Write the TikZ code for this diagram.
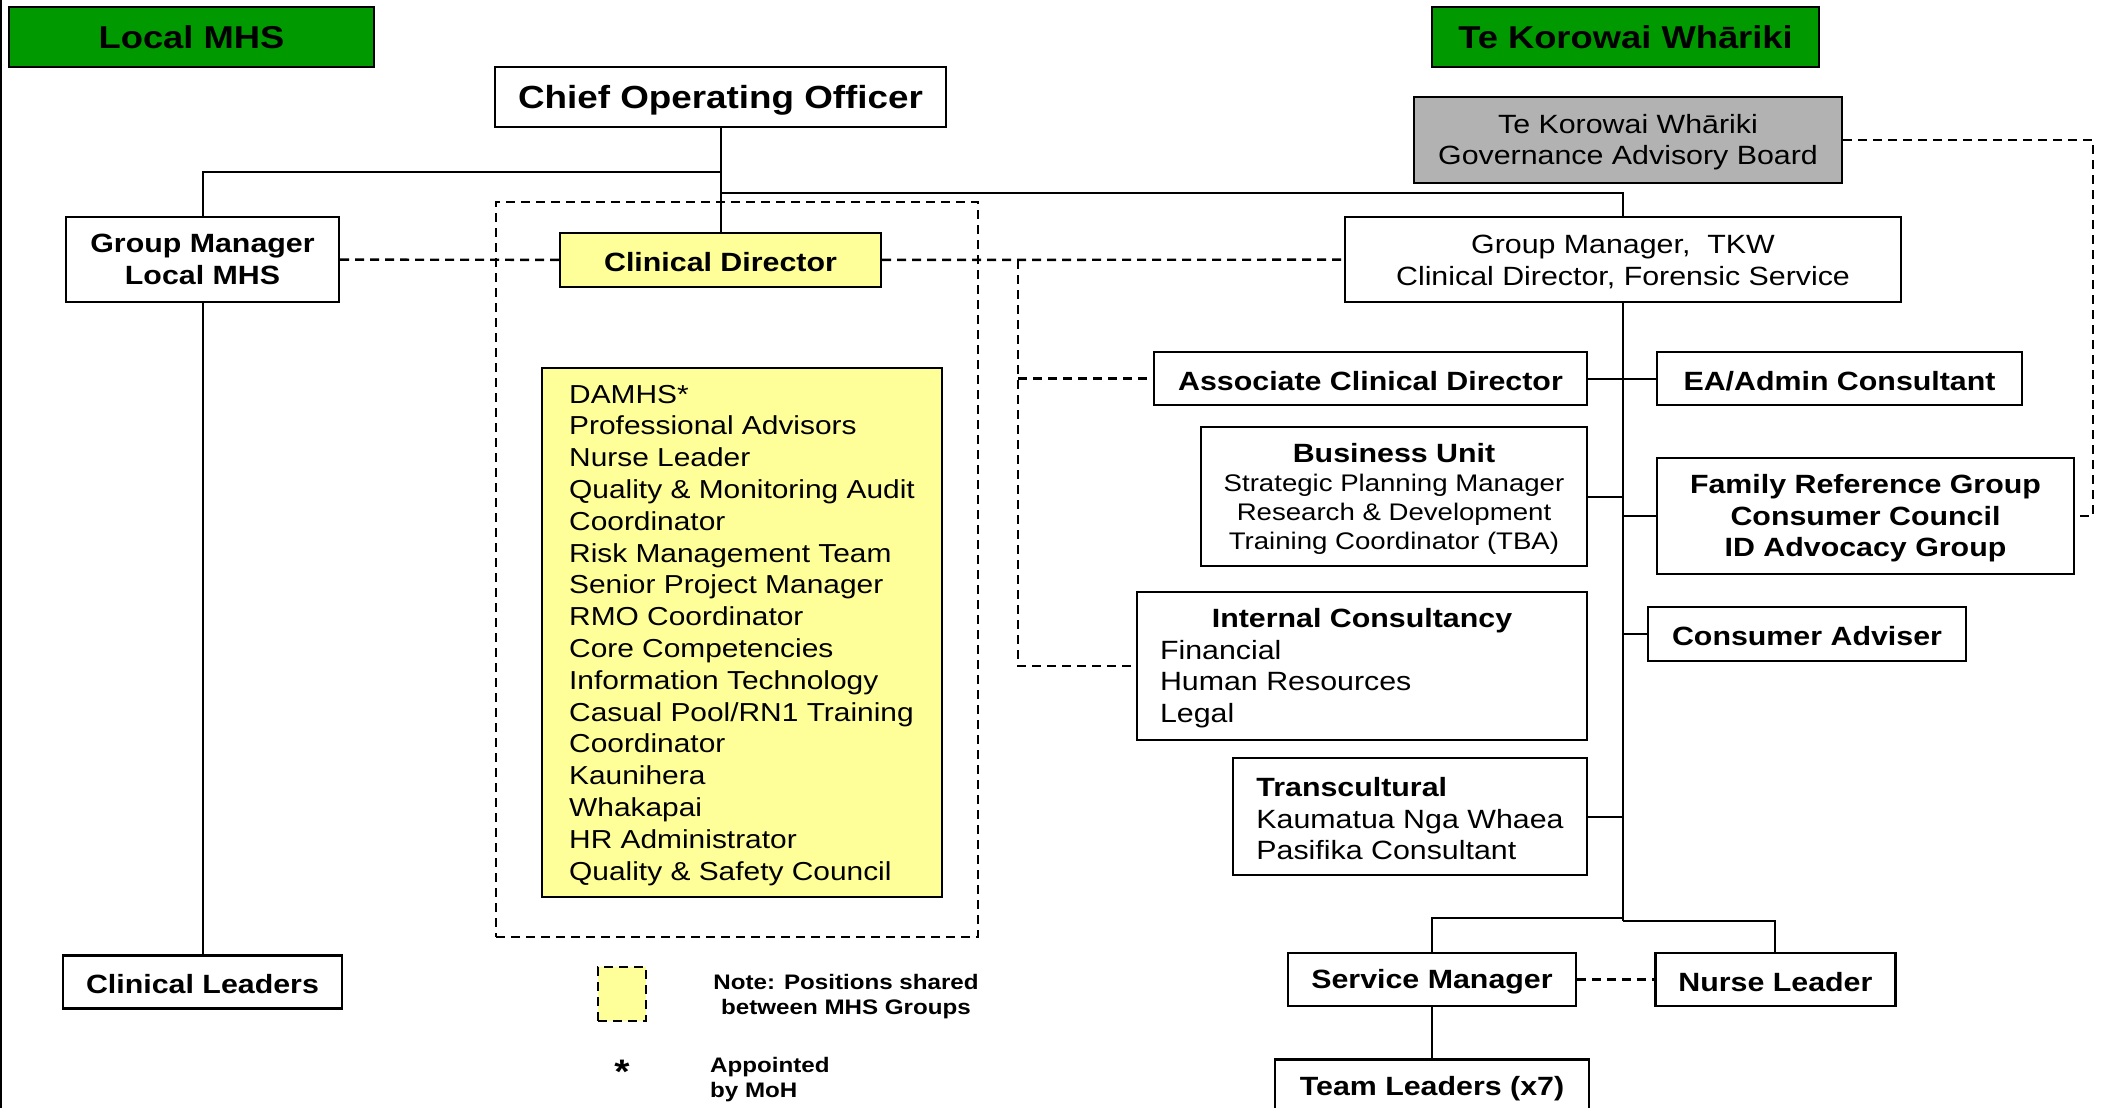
\documentclass[tikz,border=0pt]{standalone}
\usepackage{fontspec}
\setmainfont{Liberation Sans}[FakeStretch=1.15]
\usepackage{xcolor}
\usepackage{tikz}
\usetikzlibrary{positioning}

\definecolor{unitgreen}{RGB}{0,153,0}
\definecolor{sharedyellow}{RGB}{255,255,153}
\definecolor{boardgrey}{RGB}{178,178,178}

\newcommand{\txthead}{\fontsize{31.6}{36}\selectfont\bfseries}
\newcommand{\txtmain}{\fontsize{26.4}{31.5}\selectfont}
\newcommand{\txtsub}{\fontsize{24}{29}\selectfont}
\newcommand{\txtlist}{\fontsize{26}{31.8}\selectfont}
\newcommand{\txtnote}{\fontsize{21}{25}\selectfont\bfseries}
% taller first line, sets the text a little lower in its box
\newcommand{\toprule}{\rule{0pt}{0.9em}}

\begin{document}
\begin{tikzpicture}[x=1pt, y=-1pt]
\tikzstyle{banner} = [rectangle, draw=black, line width=2.4pt, fill=unitgreen, minimum height=60pt, inner sep=0pt, font=\txthead]
\tikzstyle{unitbox} = [rectangle, draw=black, line width=2.4pt, fill=white, inner sep=0pt, align=center, font=\txtmain, execute at begin node=\toprule]
\tikzstyle{keybox} = [unitbox, font=\txtmain\bfseries]
\tikzstyle{sharedbox} = [keybox, fill=sharedyellow]
\tikzstyle{solidline} = [line width=2pt]
\tikzstyle{dashline} = [line width=2.4pt, dash pattern=on 9pt off 6pt]

\useasboundingbox (0,0) rectangle (2109,1108);
\clip (0,0) rectangle (2109,1108);
\draw [line width=2pt] (1,0) -- (1,1108);

% headings
\node (lmhs) [banner, minimum width=365pt] at (191.5,37) {Local MHS};
\node (tkw) [banner, minimum width=387pt] at (1625.5,37) {Te Korowai Whāriki};

% local MHS side
\node (coo) [keybox, minimum width=451pt, minimum height=60pt, font=\fontsize{32}{38}\selectfont\bfseries] at (720.5,97) {Chief Operating Officer};
\node (gml) [keybox, minimum width=273pt, minimum height=85pt] at (202.5,259.5) {Group Manager\\Local MHS};
\node (cl) [keybox, minimum width=279pt, minimum height=53pt, below=651pt of gml] {Clinical Leaders};

% shared positions
\node (pool) [draw, dashline, minimum width=482pt, minimum height=735pt, inner sep=0pt] at (737,569.5) {};
\node (cd) [sharedbox, minimum width=321pt, minimum height=54pt] at (720.5,260) {Clinical Director};
\node (duties) [rectangle, draw=black, line width=2.4pt, fill=sharedyellow, minimum width=400pt, minimum height=529pt, inner sep=0pt, align=left, font=\txtlist] at (742,632.5) {\toprule DAMHS*\\Professional Advisors\\Nurse Leader\\Quality \& Monitoring Audit\\Coordinator\\Risk Management Team\\Senior Project Manager\\RMO Coordinator\\Core Competencies\\Information Technology\\Casual Pool/RN1 Training\\Coordinator\\Kaunihera\\Whakapai\\HR Administrator\\Quality \& Safety Council};

% Te Korowai Whariki side
\node (board) [unitbox, fill=boardgrey, minimum width=428pt, minimum height=86pt] at (1628,140) {\toprule Te Korowai Whāriki\\Governance Advisory Board};
\node (gmt) [unitbox, minimum width=556pt, minimum height=85pt] at (1623,259.5) {\toprule Group Manager,~ TKW\\Clinical Director, Forensic Service};
\node (acd) [keybox, minimum width=433pt, minimum height=53pt] at (1370.5,378.5) {Associate Clinical Director};
\node (ea) [keybox, minimum width=365pt, minimum height=53pt] at (1839.5,378.5) {EA/Admin Consultant};
\node (bu) [unitbox, font=\txtsub, minimum width=386pt, minimum height=139pt] at (1394,496.5) {{\txtmain\bfseries\toprule Business Unit}\\Strategic Planning Manager\\Research \& Development\\Training Coordinator (TBA)};
\node (frg) [keybox, minimum width=417pt, minimum height=116pt] at (1865.5,516) {\toprule Family Reference Group\\Consumer Council\\ID Advocacy Group};
\node (ic) [unitbox, align=left, minimum width=450pt, minimum height=148pt] at (1362,666) {\toprule\makebox[404pt]{\bfseries Internal Consultancy}\\Financial\\Human Resources\\Legal};
\node (ca) [keybox, minimum width=318pt, minimum height=54pt] at (1807,634) {Consumer Adviser};
\node (tc) [unitbox, align=left, minimum width=354pt, minimum height=117pt] at (1410,816.5) {\toprule\textbf{Transcultural}\\Kaumatua Nga Whaea\\Pasifika Consultant};
\node (sm) [keybox, minimum width=288pt, minimum height=53pt] at (1432,979.5) {Service Manager};
\node (nl) [keybox, minimum width=240pt, minimum height=53pt, right=77pt of sm] {Nurse Leader};
\node (tl) [keybox, minimum width=314pt, minimum height=54pt, below=51pt of sm] {Team Leaders (x7)};

% legend
\node (key) [rectangle, draw, dashline, fill=sharedyellow, minimum width=48pt, minimum height=54pt, inner sep=0pt] at (622,994) {};
\node (keynote) [font=\txtnote, align=center, inner sep=0pt] at (846,997) {Note: Positions shared\\between MHS Groups};
\node (star) [font=\fontsize{34}{34}\selectfont\bfseries, anchor=base, inner sep=0pt] at (622,1083) {*};
\node (moh) [font=\txtnote, align=left, anchor=west, inner sep=0pt] at (710,1079.6) {Appointed\\by MoH};

% reporting lines
\coordinate (gmjoin) at (720.5,172);
\coordinate (tkwjoin) at (720.5,193);
\coordinate (smfork) at (1623,918);
\coordinate (nlfork) at (1623,921);
\draw [solidline] (coo) -- (cd);
\draw [solidline] (gmjoin) -| (gml);
\draw [solidline] (tkwjoin) -| (gmt);
\draw [solidline] (gml) -- (cl);
\draw [solidline] (gmt) -- (nlfork);
\draw [solidline] (smfork) -| (sm);
\draw [solidline] (nlfork) -| (nl);
\draw [solidline] (acd) -- (ea);
\draw [solidline] (bu.east) -- (bu.east -| gmt.south);
\draw [solidline] (frg.west) -- (frg.west -| gmt.south);
\draw [solidline] (ca.west) -- (ca.west -| gmt.south);
\draw [solidline] (tc.east) -- (tc.east -| gmt.south);
\draw [solidline] (sm) -- (tl);

% advisory links
\coordinate (tap) at (1018,260);
\coordinate (bend) at (2093,140);
\draw [dashline] (gml) -- (cd);
\draw [dashline] (cd) -- (gmt);
\draw [dashline] (tap) |- (ic);
\draw [dashline] (acd.west -| tap) -- (acd);
\draw [dashline] (board) -- (bend) |- (frg);
\draw [dashline] (sm) -- (nl);
\end{tikzpicture}
\end{document}
